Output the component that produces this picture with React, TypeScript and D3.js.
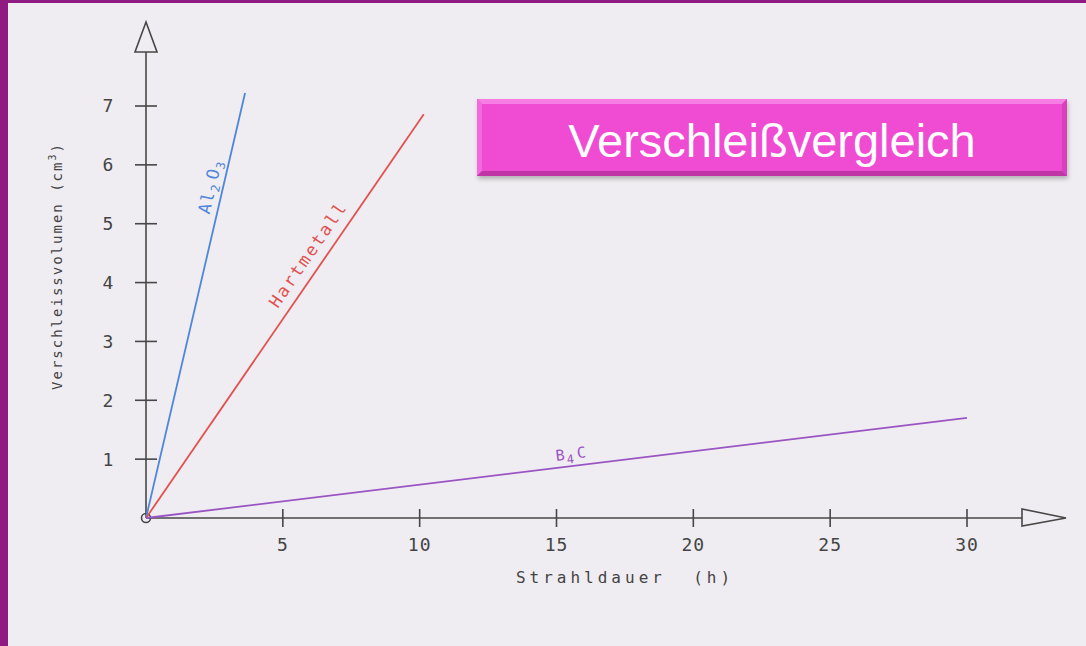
import React from 'react';
import * as d3 from 'd3';

// values
const xTicks = [5, 10, 15, 20, 25, 30];
const yTicks = [1, 2, 3, 4, 5, 6, 7];
const materials = ['Al2O3', 'Hartmetall', 'B4C'];
const endHours = [3.62, 10.15, 30];
const endVolumes = [7.22, 6.86, 1.7];
const lineColors = ['#4f86db', '#e2514f', '#9a55c4'];
const labelAt = [2.8, 6.4, 15.6]; // hours along the line where the label sits

const W = 1086;
const H = 646;
const mono = '"DejaVu Sans Mono", "Liberation Mono", monospace';
const axisColor = '#474747';

export default function App() {
  const x = d3.scaleLinear().domain([0, 30]).range([146, 967]);
  const y = d3.scaleLinear().domain([0, 7]).range([518, 106]);
  const line = d3.line<[number, number]>().x(d => x(d[0])).y(d => y(d[1]));

  const x0 = x(0), y0 = y(0);

  return (
    <svg width={W} height={H} style={{ position: 'absolute', left: 0, top: 0 }}>
      <defs>
        <filter id="shadow" x="-5%" y="-20%" width="110%" height="150%">
          <feDropShadow dx="1" dy="3" stdDeviation="2" floodColor="#000" floodOpacity="0.25" />
        </filter>
      </defs>

      {/* page */}
      <rect x={0} y={0} width={W} height={H} fill="#efedf1" />
      <rect x={0} y={0} width={W} height={3} fill="#8f1b82" />
      <rect x={0} y={0} width={8} height={H} fill="#8f1b82" />

      {/* axes */}
      <line x1={x0} y1={y0} x2={x0} y2={52} stroke={axisColor} strokeWidth={1.6} />
      <path d={`M${x0},22 L${x0 + 11},52 L${x0 - 11},52 Z`} fill="none" stroke={axisColor} strokeWidth={1.6} />
      <line x1={x0} y1={y0} x2={1022} y2={y0} stroke={axisColor} strokeWidth={1.6} />
      <path d={`M1066,${y0} L1022,${y0 - 9} L1022,${y0 + 8} Z`} fill="none" stroke={axisColor} strokeWidth={1.6} />
      <circle cx={x0} cy={y0} r={4.5} fill="none" stroke={axisColor} strokeWidth={1.6} />

      {yTicks.map(t => (
        <g key={'y' + t}>
          <line x1={x0 - 11} x2={x0 + 11} y1={y(t)} y2={y(t)} stroke={axisColor} strokeWidth={1.6} />
          <text x={108} y={y(t)} dy="0.36em" textAnchor="middle" fontFamily={mono} fontSize={18} fill="#444">
            {t}
          </text>
        </g>
      ))}
      {xTicks.map(t => (
        <g key={'x' + t}>
          <line x1={x(t)} x2={x(t)} y1={y0 - 9} y2={y0 + 9} stroke={axisColor} strokeWidth={1.6} />
          <text x={x(t)} y={551} textAnchor="middle" fontFamily={mono} fontSize={18} letterSpacing={1} fill="#444">
            {t}
          </text>
        </g>
      ))}

      <text x={625} y={583} textAnchor="middle" fontFamily={mono} fontSize={16} letterSpacing={4} fill="#444" xmlSpace="preserve">
        Strahldauer  (h)
      </text>
      <text transform="translate(62,266) rotate(-90)" textAnchor="middle" fontFamily={mono} fontSize={14} letterSpacing={2} fill="#444">
        Verschleissvolumen  (cm<tspan dy={-6} fontSize={10}>3</tspan><tspan dy={6}>)</tspan>
      </text>

      {/* wear lines */}
      {materials.map((m, i) => {
        const pts: [number, number][] = [[0, 0], [endHours[i], endVolumes[i]]];
        const slope = endVolumes[i] / endHours[i];
        const lx = x(labelAt[i]);
        const ly = y(labelAt[i] * slope);
        const ang = (Math.atan2(y(endVolumes[i]) - y0, x(endHours[i]) - x0) * 180) / Math.PI;
        const c = lineColors[i];
        const sub = (s: string) => <tspan dy={4} fontSize={12}>{s}</tspan>;
        let label: React.ReactNode = m;
        if (m === 'Al2O3') {
          label = (
            <>
              Al{sub('2')}<tspan dy={-4} dx={3}>O</tspan>{sub('3')}
            </>
          );
        } else if (m === 'B4C') {
          label = (
            <>
              B{sub('4')}<tspan dy={-4} dx={2}>C</tspan>
            </>
          );
        }
        return (
          <g key={m}>
            <path d={line(pts) || ''} stroke={c} strokeWidth={1.8} fill="none" />
            <text
              transform={`translate(${lx},${ly}) rotate(${ang}) translate(0,${m === 'Hartmetall' ? -10 : -7})`}
              textAnchor="middle"
              fontFamily={mono}
              fontSize={m === 'B4C' ? 15 : 17}
              letterSpacing={m === 'Hartmetall' ? 2.2 : 1.5}
              fill={c}
            >
              {label}
            </text>
          </g>
        );
      })}

      {/* title box */}
      <g filter="url(#shadow)">
        <rect x={477} y={99} width={590} height={77} fill="#f04bd3" />
      </g>
      <path d="M477,99 L1067,99 L1062,104 L482,104 Z" fill="#f67ee4" />
      <path d="M477,99 L482,104 L482,171 L477,176 Z" fill="#f36ade" />
      <path d="M1067,99 L1067,176 L1062,171 L1062,104 Z" fill="#d840be" />
      <path d="M477,176 L1067,176 L1062,171 L482,171 Z" fill="#c035a6" />
      <text x={772} y={157} textAnchor="middle" fontFamily='"Liberation Sans", Arial, sans-serif' fontSize={47} fill="#ffffff">
        Verschleißvergleich
      </text>
    </svg>
  );
}
